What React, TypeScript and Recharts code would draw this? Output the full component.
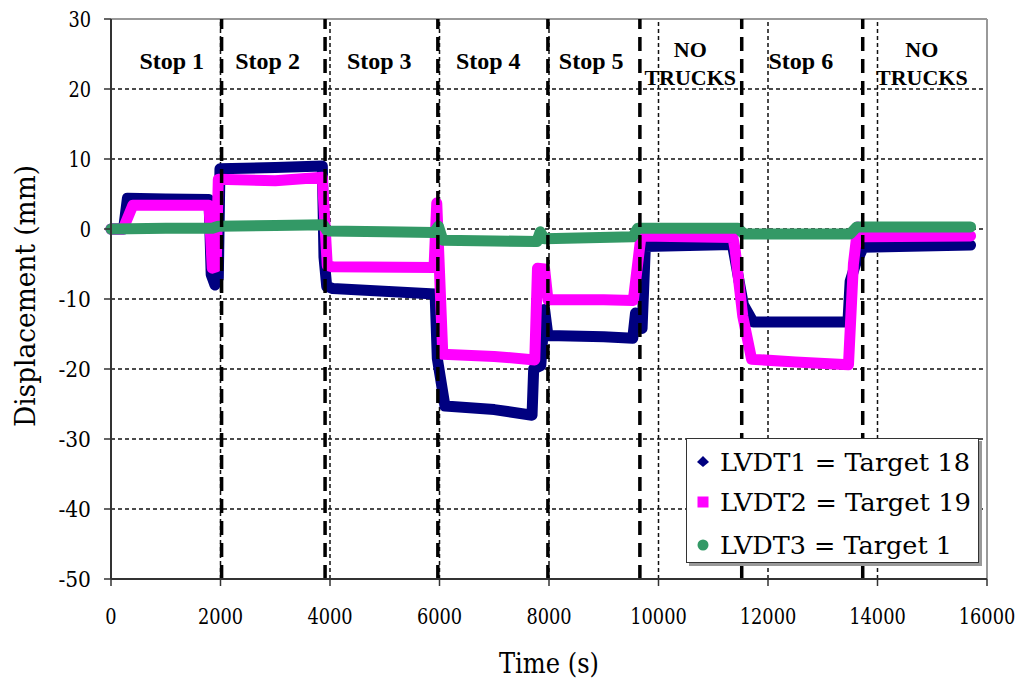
import { LineChart, Line, XAxis, YAxis, ReferenceLine, ReferenceDot, Legend, Label } from 'recharts';

const SERIF = "'DejaVu Serif', serif";
const SERIF_BOLD = "'Liberation Serif', 'Times New Roman', serif";

const xTicks = [0, 2000, 4000, 6000, 8000, 10000, 12000, 14000, 16000];
const yTicks = [-50, -40, -30, -20, -10, 0, 10, 20, 30];
const gridTimes = [2000, 4000, 6000, 8000, 10000, 12000, 14000];
const gridDisp = [20, 10, 0, -10, -20, -30, -40];

// LVDT1 = Target 18 (navy)
const lvdt1Time = [0, 230, 300, 1000, 1790, 1830, 1900, 1960, 1990, 3000, 3860, 3890, 3940, 4050, 5920, 5960, 6100, 7000, 7690, 7720, 7850, 7920, 7980, 9000, 9530, 9580, 9700, 9760, 11350, 11550, 11730, 13460, 13500, 13600, 13740, 15700];
const lvdt1Disp = [0, 0, 4.4, 4.3, 4.2, -6.5, -8.0, -7.0, 8.6, 8.8, 9.0, -4.0, -8.2, -8.5, -9.3, -18.5, -25.3, -25.8, -26.6, -20.0, -19.5, -11.5, -15.2, -15.4, -15.6, -12.0, -14.2, -2.5, -2.2, -10.8, -13.3, -13.3, -7.5, -5.0, -2.6, -2.3];

// LVDT2 = Target 19 (magenta)
const lvdt2Time = [0, 220, 400, 1000, 1790, 1850, 1920, 1960, 3000, 3860, 3950, 4050, 5900, 5950, 6060, 7000, 7740, 7790, 7920, 7980, 9000, 9540, 9680, 11360, 11400, 11540, 11700, 12500, 13470, 13560, 13640, 13720, 15700];
const lvdt2Disp = [0, 0, 3.4, 3.4, 3.4, -5.6, -5.4, 7.1, 6.9, 7.4, -5.2, -5.4, -5.5, 3.7, -17.9, -18.2, -18.7, -5.6, -5.7, -10.1, -10.1, -10.2, -1.0, -1.2, -3.0, -12.5, -18.6, -19.0, -19.4, -5.0, 0.3, -1.1, -1.0];

// LVDT3 = Target 1 (green)
const lvdt3Time = [0, 1000, 1850, 1960, 3000, 3880, 3950, 5000, 5900, 5980, 6060, 7000, 7780, 7840, 7920, 9530, 9620, 11450, 11560, 13500, 13620, 15700];
const lvdt3Disp = [0, 0.1, 0.1, 0.4, 0.5, 0.6, -0.3, -0.4, -0.5, 0.4, -1.6, -1.7, -1.8, -0.4, -1.4, -1.1, 0.1, 0.1, -0.7, -0.7, 0.3, 0.3];

const boundaryTimes = [2020, 3910, 5970, 7980, 9660, 11520, 13730];
const stopNames = ['Stop 1', 'Stop 2', 'Stop 3', 'Stop 4', 'Stop 5', 'NO\nTRUCKS', 'Stop 6', 'NO\nTRUCKS'];
const stopCentres = [1110, 2860, 4900, 6890, 8770, 10580, 12600, 14810];
const stopLabelLevel = 24;

const toPoints = (time: number[], disp: number[]) => time.map((t, i) => ({ t, v: disp[i] }));

const series = [
  { key: 'lvdt1', name: 'LVDT1 = Target 18', color: '#000080', shape: 'diamond', textWidth: 250, data: toPoints(lvdt1Time, lvdt1Disp) },
  { key: 'lvdt2', name: 'LVDT2 = Target 19', color: '#FF00FF', shape: 'square', textWidth: 251, data: toPoints(lvdt2Time, lvdt2Disp) },
  { key: 'lvdt3', name: 'LVDT3 = Target 1', color: '#339966', shape: 'circle', textWidth: 232, data: toPoints(lvdt3Time, lvdt3Disp) },
];

// the original uses a narrow Times face; squeeze DejaVu Serif to the same widths
const tickWidth = (s: string) => s.split('').reduce((w, c) => w + (c === '-' ? 10 : 11.3), 0);

function XTick(props: any) {
  const s = String(props.payload.value);
  return (
    <text x={props.x} y={props.y} dy="0.71em" textAnchor="middle" fontFamily={SERIF} fontSize={22} fill="#000" textLength={tickWidth(s)} lengthAdjust="spacingAndGlyphs">
      {s}
    </text>
  );
}

function YTick(props: any) {
  const s = String(props.payload.value);
  return (
    <text x={props.x} y={props.y} dy="0.36em" textAnchor="end" fontFamily={SERIF} fontSize={22} fill="#000" textLength={tickWidth(s)} lengthAdjust="spacingAndGlyphs">
      {s}
    </text>
  );
}

function stopLabel(text: string) {
  return (props: any) => {
    const vb = props.viewBox || {};
    const cx = vb.x + (vb.width || 0) / 2;
    const cy = vb.y + (vb.height || 0) / 2;
    const lines = text.split('\n');
    const two = lines.length > 1;
    return (
      <text textAnchor="middle" fontFamily={SERIF_BOLD} fontWeight="bold" fontSize={two ? 22 : 24} fill="#000">
        {lines.map((ln, i) => (
          <tspan key={i} x={cx} y={cy + (two ? (i === 0 ? -12 : 16) : 0)} dy="0.35em">{ln}</tspan>
        ))}
      </text>
    );
  };
}

function LegendBox(props: any) {
  const payload = props.payload || [];
  const rowY = [24, 64, 107];
  return (
    <div style={{ width: 293, height: 125, border: '1px solid #333', background: '#fff', boxShadow: '3px 3px 0 #999', boxSizing: 'border-box' }}>
      <svg width={291} height={123} style={{ display: 'block' }}>
        {payload.map((p: any, i: number) => {
          const s = series.find((x) => x.name === p.value) || series[0];
          const y = rowY[i] - 1;
          const mx = 16;
          return (
            <g key={p.value}>
              {s.shape === 'diamond' && <polygon points={`${mx},${y - 6} ${mx + 6},${y} ${mx},${y + 5} ${mx - 6},${y}`} fill={s.color} />}
              {s.shape === 'square' && <rect x={mx - 5.5} y={y - 5.5} width={11} height={11} fill={s.color} />}
              {s.shape === 'circle' && <circle cx={mx} cy={y} r={5.5} fill={s.color} />}
              <text x={33} y={y} dy="0.36em" fontFamily={SERIF} fontSize={25} fill="#000" textLength={s.textWidth} lengthAdjust="spacingAndGlyphs">
                {p.value}
              </text>
            </g>
          );
        })}
      </svg>
    </div>
  );
}

export default function App() {
  return (
    <div style={{ position: 'absolute', left: 0, top: 0, width: 1032, height: 687, background: '#fff' }}>
      <LineChart width={1032} height={687} margin={{ top: 19, right: 45, bottom: 0, left: 0 }}>
        <XAxis
          type="number"
          dataKey="t"
          domain={[0, 16000]}
          ticks={xTicks}
          allowDuplicatedCategory={false}
          height={108}
          tickSize={7}
          tickMargin={22}
          axisLine={{ stroke: '#333', strokeWidth: 2 }}
          tickLine={{ stroke: '#333', strokeWidth: 1.5 }}
          tick={XTick}
        >
          <Label
            content={(p: any) => {
              const vb = p.viewBox;
              return (
                <text x={vb.x + vb.width / 2} y={663} textAnchor="middle" dominantBaseline="central" fontFamily={SERIF} fontSize={28} fill="#000" textLength={100} lengthAdjust="spacingAndGlyphs">
                  Time (s)
                </text>
              );
            }}
          />
        </XAxis>
        <YAxis
          type="number"
          domain={[-50, 30]}
          ticks={yTicks}
          width={111}
          tickSize={7}
          tickMargin={13}
          axisLine={{ stroke: '#333', strokeWidth: 2 }}
          tickLine={{ stroke: '#333', strokeWidth: 1.5 }}
          tick={YTick}
        >
          <Label
            content={(p: any) => {
              const vb = p.viewBox;
              const cx = vb.x + 25;
              const cy = vb.y + vb.height / 2 - 3;
              return (
                <text x={cx} y={cy} transform={`rotate(-90, ${cx}, ${cy})`} textAnchor="middle" dominantBaseline="central" fontFamily={SERIF} fontSize={28} fill="#000" textLength={262} lengthAdjust="spacingAndGlyphs">
                  Displacement (mm)
                </text>
              );
            }}
          />
        </YAxis>

        {gridDisp.map((d) => (
          <ReferenceLine key={`gy${d}`} y={d} stroke="#111" strokeWidth={1.5} strokeDasharray="4 3" />
        ))}
        {gridTimes.map((t) => (
          <ReferenceLine key={`gx${t}`} x={t} stroke="#111" strokeWidth={1.5} strokeDasharray="4 3" />
        ))}
        <ReferenceLine y={30} stroke="#999" strokeWidth={2} />
        <ReferenceLine x={16000} stroke="#999" strokeWidth={2} />

        {series.map((s) => (
          <Line
            key={s.key}
            data={s.data}
            dataKey="v"
            name={s.name}
            type="linear"
            stroke={s.color}
            strokeWidth={11}
            strokeLinejoin="round"
            strokeLinecap="round"
            dot={false}
            activeDot={false}
            isAnimationActive={false}
          />
        ))}

        {boundaryTimes.map((t) => (
          <ReferenceLine key={`b${t}`} x={t} stroke="#000" strokeWidth={3.5} strokeDasharray="14 8" />
        ))}

        {stopNames.map((name, i) => (
          <ReferenceDot key={`s${i}`} x={stopCentres[i]} y={stopLabelLevel} r={0} fill="none" stroke="none" label={stopLabel(name)} />
        ))}

        <Legend
          layout="vertical"
          align="center"
          verticalAlign="middle"
          content={LegendBox}
          wrapperStyle={{ left: 686, top: 438, width: 293, height: 125 }}
        />
      </LineChart>
    </div>
  );
}
